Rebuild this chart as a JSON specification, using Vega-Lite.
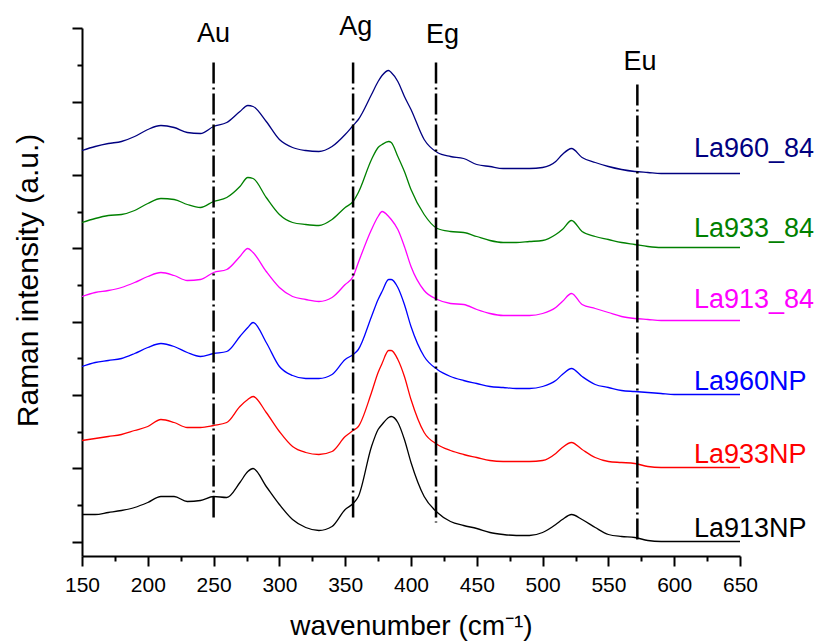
{
  "$schema": "https://vega.github.io/schema/vega-lite/v6.json",
  "width": 658,
  "height": 528,
  "autosize": {"type": "none"},
  "padding": {"left": 82, "top": 28, "right": 75, "bottom": 85},
  "background": "white",
  "config": {
    "view": {"stroke": null},
    "font": "Liberation Sans",
    "axis": {
      "domainColor": "black", "domainWidth": 2, "tickColor": "black", "tickWidth": 2,
      "labelColor": "black", "titleColor": "black", "grid": false,
      "labelFont": "Liberation Sans", "titleFont": "Liberation Sans", "titleFontWeight": "normal",
      "labelOverlap": false, "labelFlush": false
    }
  },
  "datasets": {
    "spectra": [
      {"wavenumber": 150, "La960_84": 391, "La933_84": 319, "La913_84": 245, "La960NP": 175, "La933NP": 101, "La913NP": 27},
      {"wavenumber": 160, "La960_84": 395, "La933_84": 323, "La913_84": 249, "La960NP": 179, "La933NP": 103, "La913NP": 27},
      {"wavenumber": 170, "La960_84": 398, "La933_84": 326, "La913_84": 251, "La960NP": 181, "La933NP": 105, "La913NP": 29},
      {"wavenumber": 180, "La960_84": 400, "La933_84": 327, "La913_84": 254, "La960NP": 183, "La933NP": 107, "La913NP": 31},
      {"wavenumber": 190, "La960_84": 405, "La933_84": 331, "La913_84": 259, "La960NP": 188, "La933NP": 111, "La913NP": 34},
      {"wavenumber": 200, "La960_84": 412, "La933_84": 338, "La913_84": 265, "La960NP": 194, "La933NP": 115, "La913NP": 39},
      {"wavenumber": 210, "La960_84": 416, "La933_84": 343, "La913_84": 269, "La960NP": 198, "La933NP": 122, "La913NP": 45},
      {"wavenumber": 220, "La960_84": 414, "La933_84": 342, "La913_84": 266, "La960NP": 195, "La933NP": 119, "La913NP": 45},
      {"wavenumber": 230, "La960_84": 409, "La933_84": 337, "La913_84": 261, "La960NP": 189, "La933NP": 114, "La913NP": 40},
      {"wavenumber": 240, "La960_84": 408, "La933_84": 334, "La913_84": 262, "La960NP": 185, "La933NP": 114, "La913NP": 41},
      {"wavenumber": 250, "La960_84": 415, "La933_84": 340, "La913_84": 269, "La960NP": 188, "La933NP": 116, "La913NP": 45},
      {"wavenumber": 260, "La960_84": 419, "La933_84": 344, "La913_84": 272, "La960NP": 190, "La933NP": 119, "La913NP": 44},
      {"wavenumber": 270, "La960_84": 430, "La933_84": 355, "La913_84": 285, "La960NP": 205, "La933NP": 135, "La913NP": 59},
      {"wavenumber": 276, "La960_84": 436, "La933_84": 364, "La913_84": 293, "La960NP": 214, "La933NP": 142, "La913NP": 70},
      {"wavenumber": 280, "La960_84": 435, "La933_84": 363, "La913_84": 289, "La960NP": 219, "La933NP": 145, "La913NP": 73},
      {"wavenumber": 290, "La960_84": 420, "La933_84": 344, "La913_84": 270, "La960NP": 199, "La933NP": 129, "La913NP": 55},
      {"wavenumber": 300, "La960_84": 402, "La933_84": 327, "La913_84": 254, "La960NP": 175, "La933NP": 110, "La913NP": 37},
      {"wavenumber": 310, "La960_84": 394, "La933_84": 319, "La913_84": 245, "La960NP": 166, "La933NP": 95, "La913NP": 22},
      {"wavenumber": 320, "La960_84": 391, "La933_84": 317, "La913_84": 242, "La960NP": 163, "La933NP": 89, "La913NP": 14},
      {"wavenumber": 330, "La960_84": 390, "La933_84": 316, "La913_84": 240, "La960NP": 163, "La933NP": 87, "La913NP": 11},
      {"wavenumber": 340, "La960_84": 395, "La933_84": 322, "La913_84": 244, "La960NP": 167, "La933NP": 90, "La913NP": 15},
      {"wavenumber": 350, "La960_84": 407, "La933_84": 334, "La913_84": 257, "La960NP": 182, "La933NP": 105, "La913NP": 32},
      {"wavenumber": 356, "La960_84": 416, "La933_84": 340, "La913_84": 265, "La960NP": 187, "La933NP": 111, "La913NP": 38},
      {"wavenumber": 360, "La960_84": 422, "La933_84": 349, "La913_84": 279, "La960NP": 192, "La933NP": 115, "La913NP": 45},
      {"wavenumber": 370, "La960_84": 447, "La933_84": 382, "La913_84": 312, "La960NP": 225, "La933NP": 149, "La913NP": 95},
      {"wavenumber": 375, "La960_84": 460, "La933_84": 394, "La913_84": 325, "La960NP": 242, "La933NP": 169, "La913NP": 112},
      {"wavenumber": 378, "La960_84": 466, "La933_84": 397, "La913_84": 330, "La960NP": 250, "La933NP": 178, "La913NP": 117},
      {"wavenumber": 383, "La960_84": 471, "La933_84": 400, "La913_84": 325, "La960NP": 262, "La933NP": 191, "La913NP": 124},
      {"wavenumber": 385, "La960_84": 469, "La933_84": 399, "La913_84": 322, "La960NP": 262, "La933NP": 191, "La913NP": 125},
      {"wavenumber": 390, "La960_84": 460, "La933_84": 385, "La913_84": 312, "La960NP": 254, "La933NP": 182, "La913NP": 119},
      {"wavenumber": 395, "La960_84": 445, "La933_84": 370, "La913_84": 295, "La960NP": 237, "La933NP": 165, "La913NP": 102},
      {"wavenumber": 400, "La960_84": 432, "La933_84": 352, "La913_84": 275, "La960NP": 215, "La933NP": 142, "La913NP": 79},
      {"wavenumber": 410, "La960_84": 402, "La933_84": 327, "La913_84": 251, "La960NP": 185, "La933NP": 109, "La913NP": 45},
      {"wavenumber": 420, "La960_84": 389, "La933_84": 313, "La913_84": 242, "La960NP": 172, "La933NP": 97, "La913NP": 29},
      {"wavenumber": 430, "La960_84": 385, "La933_84": 310, "La913_84": 238, "La960NP": 165, "La933NP": 91, "La913NP": 20},
      {"wavenumber": 440, "La960_84": 383, "La933_84": 309, "La913_84": 237, "La960NP": 161, "La933NP": 87, "La913NP": 16},
      {"wavenumber": 450, "La960_84": 377, "La933_84": 305, "La913_84": 232, "La960NP": 158, "La933NP": 84, "La913NP": 13},
      {"wavenumber": 460, "La960_84": 375, "La933_84": 301, "La913_84": 228, "La960NP": 155, "La933NP": 81, "La913NP": 9},
      {"wavenumber": 470, "La960_84": 373, "La933_84": 299, "La913_84": 226, "La960NP": 154, "La933NP": 80, "La913NP": 7},
      {"wavenumber": 480, "La960_84": 373, "La933_84": 299, "La913_84": 226, "La960NP": 153, "La933NP": 80, "La913NP": 6},
      {"wavenumber": 490, "La960_84": 373, "La933_84": 300, "La913_84": 226, "La960NP": 153, "La933NP": 80, "La913NP": 6},
      {"wavenumber": 500, "La960_84": 374, "La933_84": 301, "La913_84": 228, "La960NP": 155, "La933NP": 81, "La913NP": 9},
      {"wavenumber": 510, "La960_84": 380, "La933_84": 307, "La913_84": 234, "La960NP": 161, "La933NP": 88, "La913NP": 17},
      {"wavenumber": 515, "La960_84": 387, "La933_84": 312, "La913_84": 240, "La960NP": 167, "La933NP": 94, "La913NP": 22},
      {"wavenumber": 522, "La960_84": 393, "La933_84": 321, "La913_84": 248, "La960NP": 173, "La933NP": 99, "La913NP": 27},
      {"wavenumber": 530, "La960_84": 384, "La933_84": 310, "La913_84": 237, "La960NP": 165, "La933NP": 92, "La913NP": 22},
      {"wavenumber": 540, "La960_84": 379, "La933_84": 305, "La913_84": 233, "La960NP": 157, "La933NP": 84, "La913NP": 14},
      {"wavenumber": 550, "La960_84": 375, "La933_84": 302, "La913_84": 229, "La960NP": 154, "La933NP": 80, "La913NP": 7},
      {"wavenumber": 560, "La960_84": 372, "La933_84": 299, "La913_84": 225, "La960NP": 151, "La933NP": 79, "La913NP": 5},
      {"wavenumber": 570, "La960_84": 370, "La933_84": 297, "La913_84": 223, "La960NP": 150, "La933NP": 78, "La913NP": 4},
      {"wavenumber": 580, "La960_84": 369, "La933_84": 295, "La913_84": 222, "La960NP": 149, "La933NP": 75, "La913NP": 1},
      {"wavenumber": 590, "La960_84": 368, "La933_84": 294, "La913_84": 221, "La960NP": 148, "La933NP": 74, "La913NP": 0},
      {"wavenumber": 600, "La960_84": 368, "La933_84": 294, "La913_84": 221, "La960NP": 147, "La933NP": 74, "La913NP": 0},
      {"wavenumber": 620, "La960_84": 368, "La933_84": 294, "La913_84": 221, "La960NP": 147, "La933NP": 74, "La913NP": 0},
      {"wavenumber": 650, "La960_84": 368, "La933_84": 294, "La913_84": 221, "La960NP": 147, "La933NP": 74, "La913NP": 0}
    ],
    "modes": [
      {"mode": "Au", "wavenumber": 250, "top": 479, "bottom": 20, "labelWavenumber": 250, "labelIntensity": 500},
      {"mode": "Ag", "wavenumber": 356, "top": 479, "bottom": 20, "labelWavenumber": 358, "labelIntensity": 507},
      {"mode": "Eg", "wavenumber": 419, "top": 479, "bottom": 19, "labelWavenumber": 424, "labelIntensity": 499},
      {"mode": "Eu", "wavenumber": 572, "top": 457, "bottom": -1, "labelWavenumber": 574, "labelIntensity": 472}
    ],
    "labels": [
      {"sample": "La960_84", "wavenumber": 615, "intensity": 385},
      {"sample": "La933_84", "wavenumber": 615, "intensity": 305},
      {"sample": "La913_84", "wavenumber": 615, "intensity": 234},
      {"sample": "La960NP", "wavenumber": 615, "intensity": 152},
      {"sample": "La933NP", "wavenumber": 615, "intensity": 79},
      {"sample": "La913NP", "wavenumber": 615, "intensity": 5}
    ]
  },
  "resolve": {"axis": {"x": "independent", "y": "independent"}},
  "layer": [
    {
      "data": {"name": "spectra"},
      "transform": [{"fold": ["La960_84", "La933_84", "La913_84", "La960NP", "La933NP", "La913NP"], "as": ["sample", "intensity"]}],
      "mark": {"type": "line", "strokeWidth": 1.3, "interpolate": "monotone"},
      "encoding": {
        "x": {"field": "wavenumber", "type": "quantitative",
          "scale": {"domain": [150, 650], "nice": false, "zero": false},
          "axis": {"orient": "bottom", "values": [150, 200, 250, 300, 350, 400, 450, 500, 550, 600, 650],
            "tickSize": 10, "labelFontSize": 21, "labelPadding": 8, "title": "wavenumber (cm⁻¹)",
            "titleFontSize": 28, "titleBaseline": "alphabetic", "titleY": 78}},
        "y": {"field": "intensity", "type": "quantitative",
          "scale": {"domain": [-14.5, 513.5], "nice": false, "zero": false},
          "axis": {"orient": "left", "values": [0, 73.3, 146.6, 219.9, 293.2, 366.5, 439.8, 513.1],
            "tickSize": 10, "labels": false, "title": "Raman intensity (a.u.)",
            "titleFontSize": 30, "titleBaseline": "alphabetic", "titleX": -45, "titleY": 252}},
        "color": {"field": "sample", "type": "nominal",
          "scale": {"domain": ["La960_84", "La933_84", "La913_84", "La960NP", "La933NP", "La913NP"],
            "range": ["#000080", "#008000", "#FF00FF", "#0000FF", "#FF0000", "#000000"]},
          "legend": null}
      }
    },
    {
      "data": {"name": "modes"},
      "mark": {"type": "rule", "color": "black", "strokeWidth": 2.5, "strokeDash": [21, 4, 2, 4]},
      "encoding": {
        "x": {"field": "wavenumber", "type": "quantitative",
          "axis": {"orient": "bottom", "values": [175, 225, 275, 325, 375, 425, 475, 525, 575, 625],
            "tickSize": 5, "labels": false, "domain": false, "title": null}},
        "y": {"field": "top", "type": "quantitative",
          "axis": {"orient": "left", "values": [36.65, 109.95, 183.25, 256.55, 329.85, 403.15, 476.45],
            "tickSize": 5, "labels": false, "domain": false, "title": null}},
        "y2": {"field": "bottom"}
      }
    },
    {
      "data": {"name": "modes"},
      "mark": {"type": "text", "fontSize": 27, "color": "black", "align": "center", "baseline": "alphabetic"},
      "encoding": {
        "x": {"field": "labelWavenumber", "type": "quantitative", "axis": null},
        "y": {"field": "labelIntensity", "type": "quantitative", "axis": null},
        "text": {"field": "mode"}
      }
    },
    {
      "data": {"name": "labels"},
      "mark": {"type": "text", "fontSize": 27, "align": "left", "baseline": "alphabetic"},
      "encoding": {
        "x": {"field": "wavenumber", "type": "quantitative", "axis": null},
        "y": {"field": "intensity", "type": "quantitative", "axis": null},
        "text": {"field": "sample"},
        "color": {"field": "sample", "type": "nominal", "legend": null}
      }
    }
  ]
}
